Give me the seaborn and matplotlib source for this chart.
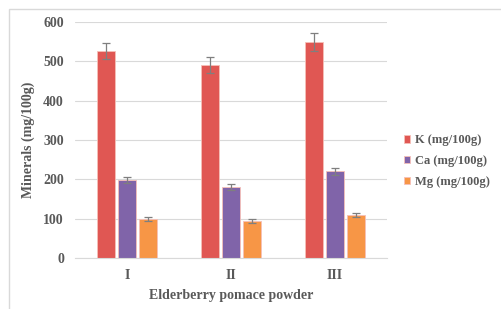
import numpy as np
import pandas as pd
import matplotlib
matplotlib.use("Agg")
import matplotlib.pyplot as plt
import seaborn as sns
from matplotlib.patches import Rectangle

samples = ["I", "II", "III"]
minerals = ["K (mg/100g)", "Ca (mg/100g)", "Mg (mg/100g)"]
k_vals = [527, 490, 550]
ca_vals = [198, 180, 220]
mg_vals = [99, 93, 109]
k_err = [20, 20, 23]
ca_err = [8, 7, 10]
mg_err = [5, 5, 6]
colors = ["#E05753", "#8064A9", "#F79646"]

rows = []
for m, vals, errs in zip(minerals, [k_vals, ca_vals, mg_vals], [k_err, ca_err, mg_err]):
    for s, v, e in zip(samples, vals, errs):
        rows.append({"sample": s, "mineral": m, "value": v, "err": e})
df = pd.DataFrame(rows)

sns.set_style("white")
plt.rcParams['font.family'] = ['Liberation Serif', 'DejaVu Serif']
plt.rcParams['font.weight'] = 'bold'
txt = "#595959"

fig = plt.figure(figsize=(5.01, 3.09), dpi=100)
ax = fig.add_axes([75 / 501, 1 - 258 / 309, 312 / 501, 236 / 309])

sns.barplot(data=df, x="sample", y="value", hue="mineral", palette=colors,
            saturation=1, width=0.615, gap=0.15, errorbar=None, ax=ax, legend=True,
            edgecolor="#f6c0b8", linewidth=0.6)

# error bars at bar centres
for bars, m in zip(ax.containers, minerals):
    sub = df[df["mineral"] == m]
    xs = [b.get_x() + b.get_width() / 2 for b in bars]
    ax.errorbar(xs, sub["value"].values, yerr=sub["err"].values, fmt="none",
                ecolor="#7f7f7f", elinewidth=0.9, capsize=3, capthick=0.9, zorder=5)

ax.set_xlim(-0.5, 2.5)
ax.set_ylim(0, 600)
ax.set_yticks(np.arange(0, 601, 100))
ax.grid(axis="y", color="#d9d9d9", linewidth=0.8)
ax.set_axisbelow(True)
for sp in ["top", "right", "left"]:
    ax.spines[sp].set_visible(False)
ax.spines["bottom"].set_color("#d9d9d9")
ax.tick_params(axis="both", length=0, colors=txt, labelsize=10, pad=8)
for lab in ax.get_xticklabels() + ax.get_yticklabels():
    lab.set_fontweight("bold")
ax.set_xlabel("Elderberry pomace powder", fontsize=10, color=txt, fontweight="bold", labelpad=5)
ax.set_ylabel("Minerals (mg/100g)", fontsize=10, color=txt, fontweight="bold", labelpad=6)

handles, labels = ax.get_legend_handles_labels()
ax.get_legend().remove()
fig.legend(handles, labels, loc="center left", bbox_to_anchor=(0.783, 1 - 161 / 309),
           frameon=False, handlelength=0.55, handleheight=0.55, handletextpad=0.35,
           labelspacing=0.7, prop={"family": "Liberation Serif", "weight": "bold", "size": 9},
           labelcolor=txt)

# outer chart frame (cropped Excel-style border)
fig.add_artist(Rectangle((9 / 501, -0.1), 1.2, 1 - 9 / 309 + 0.1, transform=fig.transFigure,
                         fill=False, edgecolor="#d9d9d9", linewidth=1))

fig.savefig("out.png", dpi=100)
